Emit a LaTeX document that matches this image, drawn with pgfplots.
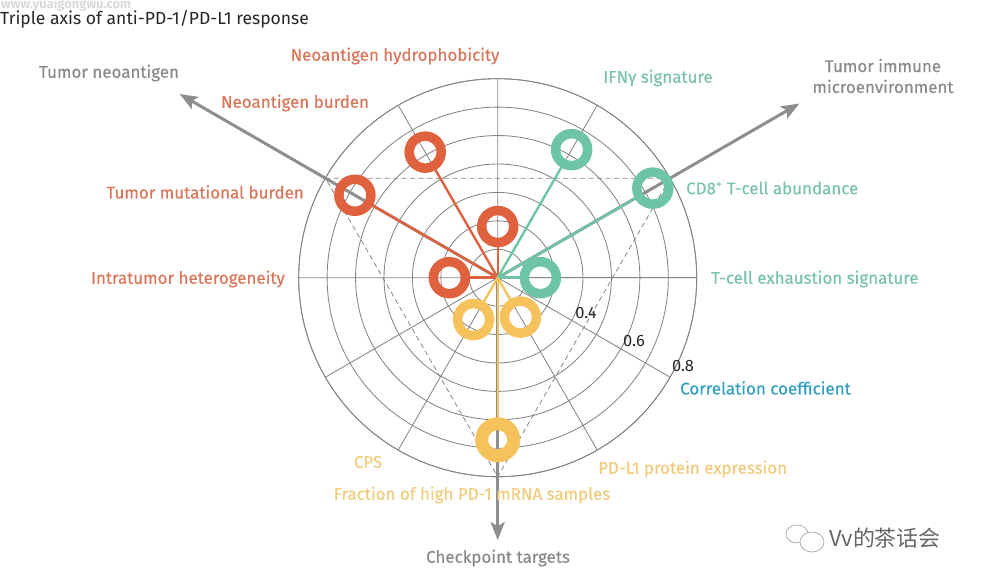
\documentclass[border=0pt]{standalone}
\usepackage{pgfplots}
\pgfplotsset{compat=1.18}
\usepackage{pgfplotstable}
\usepgfplotslibrary{polar}
\usetikzlibrary{arrows.meta}
\usepackage{fontspec}
\setmainfont{Fira Sans}
\newfontfamily\labfont{Fira Sans}[FakeBold=0.35]
\newfontfamily\cjk{Noto Sans CJK SC}
\definecolor{gridgray}{HTML}{858585}
\definecolor{arrowgray}{HTML}{8E8E8E}
\definecolor{ringred}{HTML}{E0613E}
\definecolor{txtred}{HTML}{D9765A}
\definecolor{ringgreen}{HTML}{6DC4A6}
\definecolor{txtgreen}{HTML}{79C3A9}
\definecolor{ringyellow}{HTML}{F6C25B}
\definecolor{txtyellow}{HTML}{F2CB7C}
\definecolor{txtblue}{HTML}{2F9CC2}
\definecolor{axgray}{HTML}{8A8A8A}
\newcommand\lab{\labfont\fontsize{17}{20}\selectfont}

\pgfplotstableread{
angle r
180 0.27
150 0.68
120 0.61
90  0.28
}\neo
\pgfplotstableread{
angle r
60 0.62
30 0.73
0  0.25
}\imm
\pgfplotstableread{
angle r
240 0.27
300 0.26
}\chk
\pgfplotstableread{
angle r
270 0.67
}\chkhigh

\begin{document}
\begin{tikzpicture}[x=1bp,y=1bp]
\useasboundingbox (0,0) rectangle (981,579);
\begin{polaraxis}[
  at={(497.7bp,301.3bp)}, anchor=center,
  scale only axis, width=398bp, height=398bp,
  xmin=0, xmax=360, ymin=0, ymax=0.7,
  xtick={0,30,60,90,120,150,180,210,240,270,300,330},
  ytick={0.1,0.2,0.3,0.4,0.5,0.6,0.7},
  xticklabels={}, yticklabels={},
  major tick length=0pt,
  grid=major,
  major grid style={draw=gridgray, line width=0.85bp},
  axis line style={draw=gridgray, line width=0.85bp},
  y filter/.expression={y-0.1},
  clip=false,
]
% dashed triangle
\addplot[draw=gridgray, line width=0.8bp, dash pattern=on 5bp off 3.5bp] coordinates {(30,0.8) (150,0.8) (270,0.8) (30,0.8)};
% axis arrows
\addplot[draw=arrowgray, line width=3bp, -{Stealth[length=18bp,width=14bp,inset=4bp]}] coordinates {(150,0.1) (150,1.392)};
\addplot[draw=arrowgray, line width=3bp, -{Stealth[length=18bp,width=14bp,inset=4bp]}] coordinates {(30,0.1) (30,1.325)};
\addplot[draw=arrowgray, line width=3bp, -{Stealth[length=18bp,width=14bp,inset=4bp]}] coordinates {(270,0.1) (270,1.023)};
% stems
\addplot[draw=ringred, line width=2.4bp, shorten >=12bp] coordinates {(180,0.1) (180,0.27)};
\addplot[draw=ringred, line width=2.4bp, shorten >=12bp] coordinates {(150,0.1) (150,0.68)};
\addplot[draw=ringred, line width=2.4bp, shorten >=12bp] coordinates {(120,0.1) (120,0.61)};
\addplot[draw=ringred, line width=2.4bp, shorten >=12bp] coordinates {(90,0.1) (90,0.28)};
\addplot[draw=ringgreen, line width=2.4bp, shorten >=12bp] coordinates {(60,0.1) (60,0.62)};
\addplot[draw=ringgreen, line width=2.4bp, shorten >=12bp] coordinates {(30,0.1) (30,0.73)};
\addplot[draw=ringgreen, line width=2.4bp, shorten >=12bp] coordinates {(0,0.1) (0,0.25)};
\addplot[draw=ringyellow, line width=2.4bp, shorten >=12bp] coordinates {(240,0.1) (240,0.27)};
\addplot[draw=ringyellow, line width=2.4bp, shorten >=12bp] coordinates {(300,0.1) (300,0.26)};
\addplot[draw=ringyellow, line width=2.4bp, shorten >=12bp] coordinates {(270,0.1) (270,0.67)};
% rings
\addplot[only marks, mark=o, mark size=16bp, mark options={draw=ringred, line width=9.5bp}] table[x=angle,y=r] {\neo};
\addplot[only marks, mark=o, mark size=16bp, mark options={draw=ringgreen, line width=9.5bp}] table[x=angle,y=r] {\imm};
\addplot[only marks, mark=o, mark size=16bp, mark options={draw=ringyellow, line width=9.5bp}] table[x=angle,y=r] {\chk};
\addplot[only marks, mark=o, mark size=16bp, mark options={draw=ringyellow, line width=13bp}] table[x=angle,y=r] {\chkhigh};
\end{polaraxis}

% title and watermark
\node[anchor=west, inner sep=0, text=black!85, font=\fontsize{17.6}{20}\selectfont] at (0,560) {Triple axis of anti-PD-1/PD-L1 response};
\node[anchor=west, inner sep=0, text=black!15, font=\bfseries\fontsize{13}{15}\selectfont] at (1,574) {www.yuaigongwu.com};

% group labels
\node[inner sep=0, text=axgray, font=\lab] at (109,506) {Tumor neoantigen};
\node[inner sep=0, text=axgray, font=\lab, align=center] at (883,503) {Tumor immune\\[1bp]microenvironment};
\node[inner sep=0, text=axgray, font=\lab] at (498,21) {Checkpoint targets};

% neoantigen labels
\node[inner sep=0, text=txtred, font=\lab] at (395,523) {Neoantigen hydrophobicity};
\node[inner sep=0, text=txtred, font=\lab] at (295,476) {Neoantigen burden};
\node[anchor=east, inner sep=0, text=txtred, font=\lab] at (304,387) {Tumor mutational burden};
\node[anchor=east, inner sep=0, text=txtred, font=\lab] at (285,300) {Intratumor heterogeneity};

% immune labels
\node[inner sep=0, text=txtgreen, font=\lab] at (658,501) {IFNγ signature};
\node[anchor=west, inner sep=0, text=txtgreen, font=\lab] at (686,391) {CD8\textsuperscript{+} T-cell abundance};
\node[anchor=west, inner sep=0, text=txtgreen, font=\lab] at (711,300) {T-cell exhaustion signature};

% checkpoint labels
\node[inner sep=0, text=txtyellow, font=\lab] at (368,117) {CPS};
\node[anchor=west, inner sep=0, text=txtyellow, font=\lab] at (598,110) {PD-L1 protein expression};
\node[inner sep=0, text=txtyellow, font=\lab] at (472,84) {Fraction of high PD-1 mRNA samples};

% radial scale
\node[inner sep=0, text=black!85, font=\fontsize{16.5}{19}\selectfont] at (586,266) {0.4};
\node[inner sep=0, text=black!85, font=\fontsize{16.5}{19}\selectfont] at (634,238) {0.6};
\node[inner sep=0, text=black!85, font=\fontsize{16.5}{19}\selectfont] at (683,213) {0.8};
\node[anchor=west, inner sep=0, text=txtblue, font=\lab] at (680,191) {Correlation coefficient};

% wechat watermark
\draw[black!35, line width=0.7bp] (797,45) ellipse (11 and 9);
\draw[black!35, line width=0.7bp, fill=white] (812,37) ellipse (12 and 10);
\node[anchor=west, inner sep=0, text=black!60, font=\cjk\fontsize{22}{24}\selectfont] at (829,41) {Vv的茶话会};
\end{tikzpicture}
\end{document}
